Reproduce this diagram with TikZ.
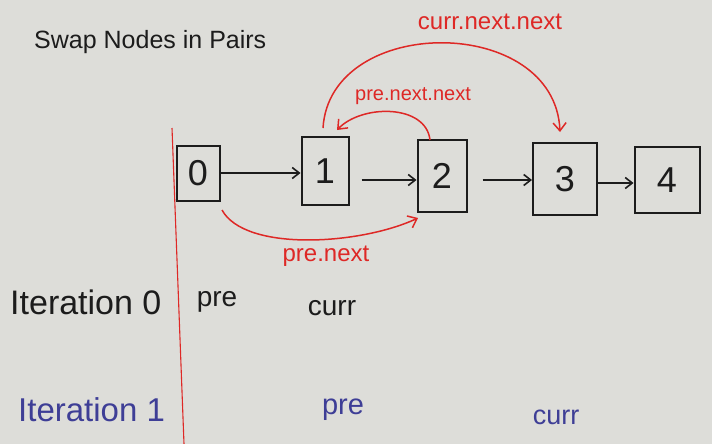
\documentclass[tikz,border=0pt]{standalone}
\usepackage{fontspec}
\setmainfont{Liberation Sans}
\usetikzlibrary{arrows.meta}
\definecolor{paper}{RGB}{221,221,217}
\definecolor{ink}{RGB}{28,28,28}
\definecolor{redink}{RGB}{222,40,38}
\definecolor{blueink}{RGB}{62,62,150}
\tikzset{
  boxnode/.style={draw=ink, line width=2pt, inner sep=0pt, font=\fontsize{36}{36}\selectfont, text=ink},
  blackarrow/.style={draw=ink, line width=1.6pt, -{Straight Barb[length=7pt,width=11pt]}},
  redarrow/.style={draw=redink, line width=1.5pt, -{Straight Barb[length=8pt,width=13pt]}},
  redlabel/.style={text=redink, inner sep=0pt},
  blacklabel/.style={text=ink, inner sep=0pt},
  bluelabel/.style={text=blueink, inner sep=0pt}
}
\begin{document}
\begin{tikzpicture}[x=1pt, y=-1pt]
\fill[paper] (0,0) rectangle (712,444);
\useasboundingbox (0,0) rectangle (712,444);

% title
\node[blacklabel, anchor=west, font=\fontsize{25}{25}\selectfont] (title) at (34,42) {Swap Nodes in Pairs};

% red vertical margin line
\coordinate (vtop) at (172,128);
\coordinate (vbot) at (184,444);
\draw[redink, line width=1.1pt] (vtop) -- (vbot);

% boxes
\node[boxnode, minimum width=43pt, minimum height=55pt] (n0) at (198,173) {0};
\node[boxnode, minimum width=47pt, minimum height=68pt] (n1) at (325,171) {1};
\node[boxnode, minimum width=49pt, minimum height=72pt] (n2) at (442,176) {2};
\node[boxnode, minimum width=64pt, minimum height=72pt] (n3) at (565,179) {3};
\node[boxnode, minimum width=65pt, minimum height=66pt] (n4) at (667,180) {4};

% black arrows
\draw[blackarrow] (n0.east) -- (n1.west |- n0.east);
\draw[blackarrow, shorten <=12pt] (n1.east |- 0,180) -- (n2.west |- 0,180);
\draw[blackarrow, shorten <=15pt] (n2.east |- 0,180) -- (n3.west |- 0,180);
\draw[blackarrow] (n3.east |- 0,183) -- (n4.west |- 0,183);

% red arcs
\coordinate (p0) at (222,210);
\coordinate (p2) at (418,218);
\draw[redarrow] (p0) .. controls (245,252) and (360,245) .. (p2);
\node[redlabel, font=\fontsize{24}{24}\selectfont] (lbpn) at (326,256) {pre.next};

\coordinate (q2) at (430,140);
\coordinate (q1) at (337,130);
\draw[redarrow] (q2) .. controls (426,104) and (362,104) .. (q1);
\node[redlabel, font=\fontsize{20}{20}\selectfont] (lbpnn) at (413,96) {pre.next.next};

\coordinate (r1) at (323,128);
\coordinate (r3) at (560,132);
\draw[redarrow] (r1) .. controls (330,14) and (555,14) .. (r3);
\node[redlabel, font=\fontsize{24}{24}\selectfont] (lbcnn) at (490,22) {curr.next.next};

% iteration rows
\node[blacklabel, anchor=west, font=\fontsize{34}{34}\selectfont] (it0) at (10,302) {Iteration 0};
\node[blacklabel, font=\fontsize{28}{28}\selectfont] (pre0) at (217,302) {pre};
\node[blacklabel, font=\fontsize{28}{28}\selectfont] (curr0) at (332,308) {curr};

\node[bluelabel, anchor=west, font=\fontsize{33}{33}\selectfont] (it1) at (18,410) {Iteration 1};
\node[bluelabel, font=\fontsize{29}{29}\selectfont] (pre1) at (343,410) {pre};
\node[bluelabel, font=\fontsize{27}{27}\selectfont] (curr1) at (556,417) {curr};
\end{tikzpicture}
\end{document}
